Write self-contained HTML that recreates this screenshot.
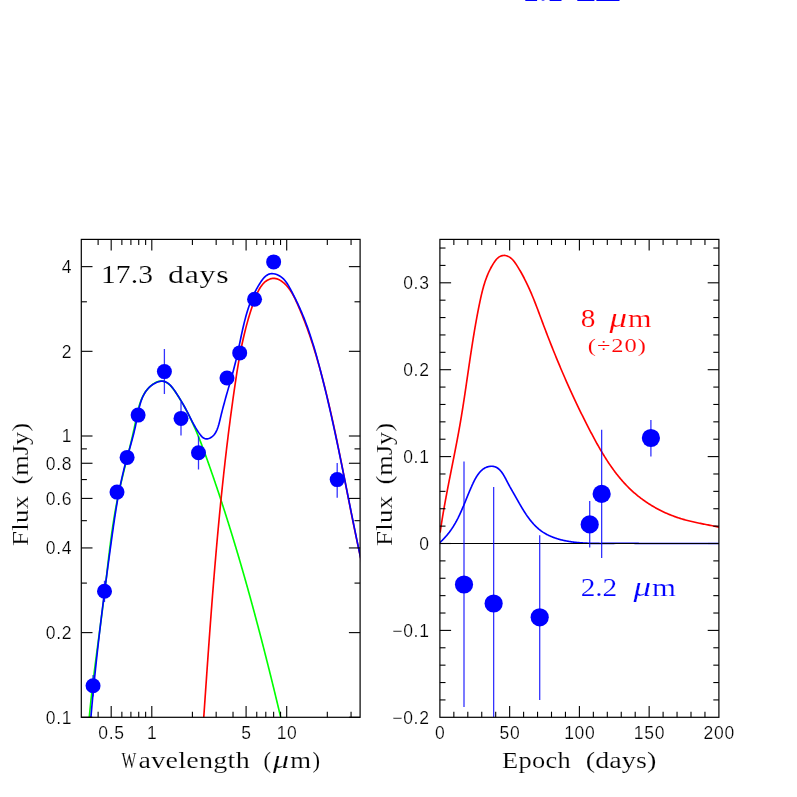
<!DOCTYPE html>
<html><head><meta charset="utf-8"><title>chart</title>
<style>html,body{margin:0;padding:0;background:#fff;}body{width:797px;height:797px;overflow:hidden;font-family:"Liberation Sans",sans-serif;}</style>
</head><body>
<svg width="797" height="797" viewBox="0 0 797 797" style="display:block">
<rect x="0" y="0" width="797" height="797" fill="#fff"/>
<defs>
<clipPath id="cl"><rect x="81.3" y="239.4" width="278.80" height="477.90"/></clipPath>
<clipPath id="cr"><rect x="439.9" y="239.4" width="279.00" height="477.90"/></clipPath>
</defs>
<rect x="525.3" y="0" width="11.8" height="1" fill="#0000ff" opacity="1"/>
<rect x="541.7" y="0" width="2.7" height="1" fill="#0000ff" opacity="0.6"/>
<rect x="549.6" y="0" width="11.9" height="1" fill="#0000ff" opacity="1"/>
<rect x="577.3" y="0" width="17.1" height="1" fill="#0000ff" opacity="1"/>
<rect x="596.4" y="0" width="23.1" height="1" fill="#0000ff" opacity="1"/>
<g clip-path="url(#cl)" fill="none" stroke-linejoin="round">
<path d="M88.25,729.44 L88.35,728.22 L88.44,726.99 L88.54,725.77 L88.64,724.55 L88.75,723.32 L88.85,722.10 L88.96,720.88 L89.06,719.66 L89.17,718.44 L89.28,717.22 L89.39,716.00 L89.51,714.78 L89.62,713.57 L89.74,712.35 L89.86,711.13 L89.97,709.91 L90.10,708.70 L90.22,707.48 L90.34,706.27 L90.46,705.05 L90.59,703.84 L90.72,702.62 L90.84,701.41 L90.97,700.19 L91.10,698.98 L91.23,697.77 L91.37,696.56 L91.50,695.34 L91.63,694.13 L91.77,692.92 L91.91,691.71 L92.04,690.50 L92.18,689.29 L92.32,688.08 L92.46,686.87 L92.61,685.66 L92.75,684.45 L92.89,683.24 L93.04,682.03 L93.18,680.83 L93.33,679.62 L93.47,678.41 L93.62,677.20 L93.77,676.00 L93.92,674.79 L94.07,673.58 L94.22,672.37 L94.37,671.17 L94.52,669.96 L94.67,668.76 L94.83,667.55 L94.98,666.34 L95.13,665.14 L95.29,663.93 L95.44,662.73 L95.60,661.52 L95.75,660.31 L95.91,659.11 L96.07,657.90 L96.23,656.70 L96.38,655.49 L96.54,654.29 L96.70,653.08 L96.86,651.88 L97.02,650.67 L97.18,649.47 L97.34,648.26 L97.50,647.06 L97.66,645.86 L97.82,644.65 L97.98,643.45 L98.14,642.24 L98.30,641.04 L98.46,639.83 L98.62,638.63 L98.78,637.42 L98.94,636.22 L99.10,635.01 L99.26,633.81 L99.42,632.60 L99.58,631.39 L99.74,630.19 L99.90,628.98 L100.06,627.78 L100.22,626.57 L100.38,625.36 L100.54,624.16 L100.70,622.95 L100.86,621.75 L101.02,620.54 L101.18,619.33 L101.34,618.12 L101.50,616.92 L101.66,615.71 L101.81,614.50 L101.97,613.29 L102.13,612.08 L102.28,610.88 L102.44,609.67 L102.59,608.46 L102.75,607.25 L102.90,606.04 L103.06,604.83 L103.21,603.62 L103.36,602.41 L103.52,601.20 L103.67,599.99 L103.82,598.77 L103.97,597.56 L104.12,596.35 L104.27,595.14 L104.41,593.92 L104.56,592.71 L104.71,591.50 L104.85,590.28 L105.00,589.07 L105.14,587.85 L105.29,586.64 L105.43,585.42 L105.57,584.21 L105.71,582.99 L105.85,581.77 L106.00,580.56 L106.14,579.34 L106.28,578.12 L106.42,576.90 L106.56,575.69 L106.70,574.47 L106.84,573.25 L106.98,572.03 L107.12,570.82 L107.26,569.60 L107.40,568.38 L107.54,567.16 L107.68,565.94 L107.82,564.73 L107.96,563.51 L108.10,562.29 L108.24,561.07 L108.38,559.85 L108.53,558.64 L108.67,557.42 L108.82,556.20 L108.96,554.98 L109.11,553.77 L109.26,552.55 L109.40,551.33 L109.55,550.12 L109.70,548.90 L109.85,547.68 L110.00,546.47 L110.16,545.25 L110.31,544.04 L110.47,542.82 L110.63,541.61 L110.78,540.40 L110.94,539.18 L111.10,537.97 L111.27,536.76 L111.43,535.55 L111.60,534.34 L111.77,533.13 L111.94,531.92 L112.11,530.71 L112.28,529.50 L112.46,528.29 L112.63,527.08 L112.81,525.88 L113.00,524.67 L113.18,523.46 L113.36,522.26 L113.55,521.05 L113.74,519.85 L113.94,518.65 L114.13,517.45 L114.33,516.25 L114.53,515.05 L114.73,513.85 L114.94,512.65 L115.14,511.45 L115.36,510.25 L115.57,509.06 L115.79,507.86 L116.01,506.67 L116.23,505.48 L116.45,504.29 L116.68,503.10 L116.91,501.91 L117.15,500.72 L117.39,499.53 L117.63,498.35 L117.87,497.16 L118.12,495.98 L118.37,494.79 L118.62,493.61 L118.88,492.43 L119.14,491.25 L119.40,490.07 L119.66,488.89 L119.93,487.71 L120.20,486.53 L120.47,485.36 L120.74,484.18 L121.01,483.00 L121.29,481.82 L121.57,480.65 L121.85,479.47 L122.13,478.30 L122.41,477.12 L122.70,475.95 L122.98,474.77 L123.27,473.60 L123.56,472.42 L123.85,471.24 L124.14,470.07 L124.43,468.89 L124.72,467.72 L125.02,466.54 L125.31,465.36 L125.60,464.18 L125.90,463.01 L126.19,461.83 L126.49,460.65 L126.78,459.47 L127.08,458.29 L127.37,457.11 L127.67,455.92 L127.96,454.74 L128.25,453.56 L128.55,452.37 L128.84,451.18 L129.13,450.00 L129.43,448.81 L129.72,447.62 L130.01,446.43 L130.29,445.23 L130.58,444.04 L130.87,442.84 L131.15,441.65 L131.44,440.45 L131.72,439.25 L132.00,438.05 L132.28,436.84 L132.56,435.64 L132.83,434.43 L133.11,433.22 L133.38,432.01 L133.65,430.80 L133.92,429.59 L134.18,428.37 L134.44,427.15 L134.70,425.93 L134.96,424.71 L135.22,423.48 L135.47,422.25 L135.72,421.02 L135.97,419.79 L136.21,418.56 L136.47,417.33 L136.72,416.10 L136.98,414.87 L137.24,413.65 L137.51,412.43 L137.79,411.22 L138.08,410.01 L138.38,408.81 L138.70,407.62 L139.02,406.44 L139.37,405.27 L139.73,404.10 L140.10,402.95 L140.50,401.82 L140.92,400.69 L141.36,399.58 L141.82,398.49 L142.30,397.41 L142.82,396.35 L143.36,395.31 L143.93,394.28 L144.52,393.28 L145.15,392.30 L145.82,391.33 L146.51,390.40 L147.25,389.48 L148.02,388.59 L148.82,387.73 L149.67,386.89 L150.56,386.08 L151.49,385.29 L152.46,384.54 L153.47,383.83 L154.51,383.17 L155.59,382.59 L156.68,382.08 L157.80,381.67 L158.92,381.37 L160.06,381.19 L161.20,381.14 L162.33,381.22 L163.44,381.41 L164.52,381.72 L165.56,382.12 L166.56,382.62 L167.52,383.20 L168.44,383.87 L169.34,384.60 L170.20,385.41 L171.04,386.27 L171.85,387.18 L172.63,388.13 L173.40,389.12 L174.15,390.15 L174.88,391.19 L175.60,392.25 L176.31,393.32 L177.01,394.39 L177.70,395.47 L178.38,396.54 L179.05,397.62 L179.72,398.70 L180.37,399.78 L181.02,400.86 L181.66,401.95 L182.30,403.03 L182.92,404.12 L183.54,405.21 L184.15,406.30 L184.75,407.39 L185.35,408.48 L185.94,409.58 L186.52,410.68 L187.10,411.77 L187.67,412.87 L188.23,413.97 L188.79,415.08 L189.34,416.18 L189.88,417.28 L190.42,418.39 L190.95,419.50 L191.48,420.61 L192.00,421.72 L192.52,422.83 L193.03,423.94 L193.53,425.06 L194.03,426.17 L194.53,427.29 L195.02,428.41 L195.50,429.52 L195.98,430.64 L196.46,431.77 L196.93,432.89 L197.40,434.01 L197.87,435.13 L198.33,436.26 L198.78,437.39 L199.24,438.51 L199.68,439.64 L200.13,440.77 L200.57,441.90 L201.01,443.03 L201.45,444.16 L201.88,445.29 L202.31,446.43 L202.74,447.56 L203.17,448.69 L203.59,449.83 L204.01,450.97 L204.43,452.10 L204.85,453.24 L205.26,454.38 L205.68,455.52 L206.09,456.65 L206.50,457.79 L206.91,458.93 L207.32,460.08 L207.72,461.22 L208.13,462.36 L208.53,463.50 L208.94,464.64 L209.34,465.79 L209.74,466.93 L210.14,468.08 L210.55,469.22 L210.94,470.37 L211.34,471.51 L211.74,472.66 L212.14,473.80 L212.54,474.95 L212.93,476.10 L213.33,477.25 L213.72,478.39 L214.11,479.54 L214.51,480.69 L214.90,481.84 L215.29,482.99 L215.68,484.14 L216.07,485.29 L216.46,486.45 L216.85,487.60 L217.23,488.75 L217.62,489.90 L218.01,491.05 L218.39,492.21 L218.78,493.36 L219.16,494.52 L219.54,495.67 L219.92,496.83 L220.30,497.98 L220.68,499.14 L221.06,500.29 L221.44,501.45 L221.82,502.61 L222.20,503.76 L222.57,504.92 L222.95,506.08 L223.33,507.24 L223.70,508.40 L224.07,509.55 L224.45,510.71 L224.82,511.87 L225.19,513.03 L225.56,514.19 L225.93,515.36 L226.30,516.52 L226.67,517.68 L227.04,518.84 L227.40,520.00 L227.77,521.17 L228.14,522.33 L228.50,523.49 L228.86,524.66 L229.23,525.82 L229.59,526.98 L229.95,528.15 L230.31,529.31 L230.68,530.48 L231.04,531.64 L231.39,532.81 L231.75,533.98 L232.11,535.14 L232.47,536.31 L232.83,537.48 L233.18,538.64 L233.54,539.81 L233.89,540.98 L234.25,542.15 L234.60,543.31 L234.95,544.48 L235.30,545.65 L235.65,546.82 L236.01,547.99 L236.36,549.16 L236.71,550.33 L237.05,551.50 L237.40,552.67 L237.75,553.84 L238.10,555.01 L238.44,556.19 L238.79,557.36 L239.13,558.53 L239.48,559.70 L239.82,560.87 L240.16,562.05 L240.51,563.22 L240.85,564.39 L241.19,565.56 L241.53,566.74 L241.87,567.91 L242.21,569.09 L242.55,570.26 L242.89,571.43 L243.22,572.61 L243.56,573.78 L243.90,574.96 L244.23,576.13 L244.57,577.31 L244.90,578.49 L245.23,579.66 L245.57,580.84 L245.90,582.01 L246.23,583.19 L246.56,584.37 L246.90,585.54 L247.23,586.72 L247.56,587.90 L247.88,589.07 L248.21,590.25 L248.54,591.43 L248.87,592.61 L249.20,593.79 L249.52,594.96 L249.85,596.14 L250.17,597.32 L250.50,598.50 L250.82,599.68 L251.15,600.86 L251.47,602.04 L251.79,603.22 L252.11,604.39 L252.43,605.57 L252.76,606.75 L253.08,607.93 L253.40,609.11 L253.71,610.29 L254.03,611.47 L254.35,612.65 L254.67,613.83 L254.99,615.01 L255.30,616.19 L255.62,617.38 L255.93,618.56 L256.25,619.74 L256.56,620.92 L256.88,622.10 L257.19,623.28 L257.51,624.46 L257.82,625.64 L258.13,626.82 L258.44,628.01 L258.75,629.19 L259.06,630.37 L259.37,631.55 L259.68,632.73 L259.99,633.91 L260.30,635.10 L260.61,636.28 L260.92,637.46 L261.22,638.64 L261.53,639.83 L261.84,641.01 L262.14,642.19 L262.45,643.37 L262.75,644.55 L263.06,645.74 L263.36,646.92 L263.66,648.10 L263.97,649.28 L264.27,650.47 L264.57,651.65 L264.87,652.83 L265.17,654.02 L265.47,655.20 L265.78,656.38 L266.07,657.56 L266.37,658.75 L266.67,659.93 L266.97,661.11 L267.27,662.29 L267.57,663.48 L267.87,664.66 L268.16,665.84 L268.46,667.03 L268.75,668.21 L269.05,669.39 L269.35,670.57 L269.64,671.76 L269.93,672.94 L270.23,674.12 L270.52,675.30 L270.82,676.49 L271.11,677.67 L271.40,678.85 L271.69,680.03 L271.98,681.22 L272.28,682.40 L272.57,683.58 L272.86,684.76 L273.15,685.95 L273.44,687.13 L273.73,688.31 L274.01,689.49 L274.30,690.67 L274.59,691.86 L274.88,693.04 L275.17,694.22 L275.45,695.40 L275.74,696.58 L276.03,697.76 L276.31,698.95 L276.60,700.13 L276.88,701.31 L277.17,702.49 L277.45,703.67 L277.74,704.85 L278.02,706.03 L278.30,707.21 L278.59,708.39 L278.87,709.57 L279.15,710.76 L279.44,711.94 L279.72,713.12 L280.00,714.30 L280.28,715.48 L280.56,716.66 L280.84,717.84 L281.12,719.02 L281.40,720.19 L281.68,721.37 L281.96,722.55" stroke="#00ff00" stroke-width="1.65"/>
<path d="M202.94,728.91 L203.03,727.64 L203.12,726.36 L203.21,725.09 L203.30,723.82 L203.39,722.55 L203.47,721.27 L203.56,720.00 L203.65,718.73 L203.74,717.45 L203.83,716.18 L203.92,714.91 L204.00,713.63 L204.09,712.36 L204.18,711.08 L204.27,709.81 L204.36,708.53 L204.45,707.26 L204.53,705.98 L204.62,704.71 L204.71,703.43 L204.80,702.15 L204.89,700.88 L204.98,699.60 L205.06,698.33 L205.15,697.05 L205.24,695.77 L205.33,694.50 L205.42,693.22 L205.51,691.94 L205.60,690.66 L205.68,689.39 L205.77,688.11 L205.86,686.83 L205.95,685.55 L206.04,684.27 L206.13,682.99 L206.22,681.72 L206.31,680.44 L206.40,679.16 L206.49,677.88 L206.57,676.60 L206.66,675.32 L206.75,674.04 L206.84,672.76 L206.93,671.48 L207.02,670.20 L207.11,668.92 L207.20,667.64 L207.29,666.36 L207.38,665.08 L207.47,663.80 L207.56,662.52 L207.66,661.24 L207.75,659.96 L207.84,658.68 L207.93,657.40 L208.02,656.12 L208.11,654.83 L208.20,653.55 L208.29,652.27 L208.39,650.99 L208.48,649.71 L208.57,648.43 L208.66,647.14 L208.75,645.86 L208.85,644.58 L208.94,643.30 L209.03,642.02 L209.12,640.73 L209.22,639.45 L209.31,638.17 L209.40,636.89 L209.50,635.60 L209.59,634.32 L209.68,633.04 L209.78,631.75 L209.87,630.47 L209.97,629.19 L210.06,627.90 L210.16,626.62 L210.25,625.34 L210.35,624.05 L210.44,622.77 L210.54,621.49 L210.64,620.20 L210.73,618.92 L210.83,617.64 L210.92,616.35 L211.02,615.07 L211.12,613.79 L211.22,612.50 L211.31,611.22 L211.41,609.93 L211.51,608.65 L211.61,607.37 L211.71,606.08 L211.80,604.80 L211.90,603.51 L212.00,602.23 L212.10,600.94 L212.20,599.66 L212.30,598.38 L212.40,597.09 L212.50,595.81 L212.60,594.52 L212.70,593.24 L212.80,591.95 L212.91,590.67 L213.01,589.39 L213.11,588.10 L213.21,586.82 L213.32,585.53 L213.42,584.25 L213.52,582.96 L213.63,581.68 L213.73,580.39 L213.83,579.11 L213.94,577.83 L214.04,576.54 L214.15,575.26 L214.25,573.97 L214.36,572.69 L214.47,571.40 L214.57,570.12 L214.68,568.84 L214.79,567.55 L214.89,566.27 L215.00,564.98 L215.11,563.70 L215.22,562.41 L215.33,561.13 L215.44,559.85 L215.55,558.56 L215.66,557.28 L215.77,555.99 L215.88,554.71 L215.99,553.43 L216.10,552.14 L216.21,550.86 L216.32,549.57 L216.44,548.29 L216.55,547.01 L216.66,545.72 L216.77,544.44 L216.89,543.16 L217.00,541.87 L217.12,540.59 L217.23,539.31 L217.35,538.02 L217.46,536.74 L217.58,535.46 L217.70,534.17 L217.82,532.89 L217.93,531.61 L218.05,530.32 L218.17,529.04 L218.29,527.76 L218.41,526.48 L218.53,525.19 L218.65,523.91 L218.77,522.63 L218.89,521.35 L219.01,520.06 L219.13,518.78 L219.26,517.50 L219.38,516.22 L219.50,514.94 L219.63,513.65 L219.75,512.37 L219.87,511.09 L220.00,509.81 L220.12,508.53 L220.25,507.25 L220.38,505.97 L220.50,504.69 L220.63,503.40 L220.76,502.12 L220.89,500.84 L221.02,499.56 L221.15,498.28 L221.28,497.00 L221.41,495.72 L221.54,494.44 L221.67,493.16 L221.80,491.88 L221.93,490.60 L222.07,489.32 L222.20,488.04 L222.33,486.77 L222.47,485.49 L222.60,484.21 L222.74,482.93 L222.88,481.65 L223.01,480.37 L223.15,479.09 L223.29,477.82 L223.43,476.54 L223.56,475.26 L223.70,473.98 L223.84,472.71 L223.98,471.43 L224.13,470.15 L224.27,468.87 L224.41,467.60 L224.55,466.32 L224.70,465.04 L224.84,463.77 L224.98,462.49 L225.13,461.22 L225.27,459.94 L225.42,458.67 L225.57,457.39 L225.71,456.11 L225.86,454.84 L226.01,453.57 L226.16,452.29 L226.31,451.02 L226.46,449.74 L226.61,448.47 L226.76,447.19 L226.92,445.92 L227.07,444.65 L227.22,443.37 L227.38,442.10 L227.53,440.83 L227.69,439.56 L227.84,438.28 L228.00,437.01 L228.15,435.74 L228.31,434.47 L228.47,433.20 L228.63,431.93 L228.79,430.66 L228.95,429.38 L229.11,428.11 L229.27,426.84 L229.44,425.57 L229.60,424.30 L229.76,423.03 L229.93,421.77 L230.09,420.50 L230.26,419.23 L230.42,417.96 L230.59,416.69 L230.76,415.42 L230.93,414.15 L231.10,412.89 L231.27,411.62 L231.44,410.35 L231.61,409.09 L231.78,407.82 L231.95,406.55 L232.13,405.29 L232.30,404.02 L232.48,402.76 L232.65,401.49 L232.83,400.23 L233.00,398.96 L233.18,397.70 L233.36,396.43 L233.54,395.17 L233.72,393.91 L233.90,392.64 L234.08,391.38 L234.26,390.12 L234.45,388.85 L234.63,387.59 L234.81,386.33 L235.00,385.07 L235.18,383.81 L235.37,382.55 L235.56,381.29 L235.75,380.03 L235.94,378.77 L236.13,377.51 L236.32,376.25 L236.52,374.99 L236.72,373.73 L236.91,372.47 L237.11,371.21 L237.32,369.95 L237.52,368.69 L237.73,367.43 L237.94,366.17 L238.15,364.92 L238.36,363.66 L238.58,362.40 L238.79,361.14 L239.02,359.88 L239.24,358.63 L239.47,357.37 L239.70,356.11 L239.93,354.85 L240.17,353.59 L240.41,352.34 L240.65,351.08 L240.89,349.82 L241.14,348.56 L241.40,347.31 L241.66,346.05 L241.92,344.79 L242.18,343.53 L242.45,342.27 L242.73,341.01 L243.01,339.76 L243.29,338.50 L243.57,337.24 L243.87,335.98 L244.16,334.72 L244.46,333.46 L244.77,332.20 L245.08,330.94 L245.40,329.68 L245.72,328.42 L246.04,327.16 L246.38,325.90 L246.71,324.64 L247.06,323.38 L247.40,322.12 L247.76,320.86 L248.12,319.60 L248.48,318.33 L248.86,317.07 L249.24,315.81 L249.62,314.55 L250.01,313.28 L250.41,312.02 L250.81,310.75 L251.22,309.49 L251.64,308.23 L252.06,306.96 L252.49,305.69 L252.93,304.43 L253.38,303.16 L253.83,301.89 L254.29,300.63 L254.76,299.36 L255.23,298.10 L255.72,296.84 L256.22,295.59 L256.74,294.36 L257.28,293.14 L257.83,291.95 L258.41,290.78 L259.02,289.63 L259.65,288.52 L260.31,287.45 L261.00,286.41 L261.72,285.42 L262.48,284.47 L263.28,283.57 L264.11,282.73 L264.99,281.94 L265.91,281.21 L266.88,280.55 L267.89,279.95 L268.96,279.43 L270.06,279.00 L271.18,278.66 L272.33,278.44 L273.48,278.35 L274.63,278.39 L275.78,278.57 L276.92,278.86 L278.05,279.27 L279.16,279.77 L280.26,280.37 L281.33,281.05 L282.37,281.79 L283.39,282.60 L284.37,283.46 L285.32,284.36 L286.23,285.29 L287.10,286.25 L287.93,287.24 L288.73,288.25 L289.50,289.29 L290.24,290.35 L290.96,291.43 L291.64,292.53 L292.31,293.64 L292.95,294.78 L293.57,295.92 L294.17,297.08 L294.76,298.25 L295.33,299.43 L295.89,300.62 L296.44,301.81 L296.98,303.01 L297.51,304.20 L298.04,305.40 L298.56,306.60 L299.08,307.80 L299.59,309.00 L300.10,310.20 L300.60,311.40 L301.10,312.61 L301.59,313.81 L302.08,315.01 L302.57,316.22 L303.05,317.42 L303.52,318.63 L303.99,319.83 L304.46,321.04 L304.92,322.25 L305.38,323.45 L305.83,324.66 L306.28,325.87 L306.73,327.08 L307.17,328.29 L307.61,329.50 L308.04,330.72 L308.47,331.93 L308.90,333.14 L309.32,334.35 L309.74,335.57 L310.15,336.78 L310.56,338.00 L310.97,339.22 L311.37,340.43 L311.77,341.65 L312.17,342.87 L312.57,344.09 L312.96,345.31 L313.34,346.53 L313.73,347.75 L314.11,348.97 L314.49,350.19 L314.87,351.41 L315.24,352.64 L315.61,353.86 L315.98,355.09 L316.34,356.31 L316.70,357.54 L317.06,358.77 L317.42,359.99 L317.77,361.22 L318.12,362.45 L318.47,363.68 L318.82,364.91 L319.17,366.14 L319.51,367.37 L319.85,368.61 L320.19,369.84 L320.53,371.07 L320.86,372.31 L321.19,373.54 L321.52,374.78 L321.85,376.01 L322.18,377.25 L322.51,378.49 L322.83,379.73 L323.15,380.97 L323.47,382.20 L323.79,383.44 L324.11,384.69 L324.42,385.93 L324.74,387.17 L325.05,388.41 L325.36,389.65 L325.67,390.90 L325.98,392.14 L326.28,393.39 L326.59,394.63 L326.89,395.88 L327.19,397.13 L327.49,398.37 L327.79,399.62 L328.08,400.87 L328.38,402.12 L328.67,403.37 L328.97,404.61 L329.26,405.86 L329.55,407.12 L329.84,408.37 L330.12,409.62 L330.41,410.87 L330.69,412.12 L330.98,413.37 L331.26,414.63 L331.54,415.88 L331.82,417.13 L332.10,418.39 L332.38,419.64 L332.65,420.90 L332.93,422.15 L333.20,423.41 L333.48,424.67 L333.75,425.92 L334.02,427.18 L334.29,428.44 L334.56,429.69 L334.83,430.95 L335.10,432.21 L335.37,433.47 L335.63,434.73 L335.90,435.99 L336.16,437.24 L336.42,438.50 L336.69,439.76 L336.95,441.02 L337.21,442.28 L337.47,443.54 L337.73,444.81 L337.99,446.07 L338.25,447.33 L338.50,448.59 L338.76,449.85 L339.02,451.11 L339.27,452.37 L339.53,453.64 L339.78,454.90 L340.04,456.16 L340.29,457.42 L340.54,458.69 L340.80,459.95 L341.05,461.21 L341.30,462.47 L341.55,463.74 L341.80,465.00 L342.05,466.26 L342.30,467.53 L342.55,468.79 L342.80,470.05 L343.05,471.32 L343.30,472.58 L343.55,473.85 L343.80,475.11 L344.05,476.37 L344.30,477.64 L344.54,478.90 L344.79,480.16 L345.04,481.43 L345.29,482.69 L345.53,483.96 L345.78,485.22 L346.03,486.48 L346.28,487.75 L346.52,489.01 L346.77,490.27 L347.02,491.54 L347.27,492.80 L347.51,494.06 L347.76,495.33 L348.01,496.59 L348.26,497.85 L348.51,499.12 L348.75,500.38 L349.00,501.64 L349.25,502.91 L349.50,504.17 L349.75,505.43 L350.00,506.69 L350.25,507.95 L350.50,509.22 L350.75,510.48 L351.00,511.74 L351.25,513.00 L351.50,514.26 L351.76,515.52 L352.01,516.78 L352.26,518.04 L352.52,519.30 L352.77,520.56 L353.02,521.82 L353.28,523.08 L353.54,524.34 L353.79,525.60 L354.05,526.86 L354.31,528.11 L354.56,529.37 L354.82,530.63 L355.08,531.89 L355.34,533.14 L355.60,534.40 L355.87,535.66 L356.13,536.91 L356.39,538.17 L356.66,539.42 L356.92,540.68 L357.19,541.93 L357.45,543.18 L357.72,544.44 L357.99,545.69 L358.26,546.94 L358.53,548.19 L358.80,549.45 L359.07,550.70 L359.35,551.95 L359.62,553.20 L359.90,554.45 L360.17,555.70 L360.45,556.95 L360.73,558.20 L361.01,559.44 L361.29,560.69 L361.57,561.94 L361.86,563.18 L362.14,564.43" stroke="#ff0000" stroke-width="1.65"/>
<path d="M89.89,729.62 L90.02,728.06 L90.14,726.50 L90.27,724.95 L90.40,723.39 L90.53,721.83 L90.66,720.27 L90.79,718.71 L90.92,717.16 L91.05,715.60 L91.19,714.04 L91.32,712.49 L91.46,710.93 L91.60,709.38 L91.73,707.82 L91.87,706.27 L92.01,704.71 L92.16,703.16 L92.30,701.60 L92.44,700.05 L92.58,698.50 L92.73,696.94 L92.88,695.39 L93.02,693.84 L93.17,692.29 L93.32,690.73 L93.47,689.18 L93.62,687.63 L93.77,686.08 L93.92,684.53 L94.08,682.98 L94.23,681.43 L94.39,679.88 L94.54,678.33 L94.70,676.78 L94.86,675.23 L95.02,673.68 L95.18,672.13 L95.34,670.58 L95.50,669.03 L95.66,667.48 L95.83,665.94 L95.99,664.39 L96.16,662.84 L96.32,661.29 L96.49,659.74 L96.66,658.20 L96.82,656.65 L96.99,655.10 L97.16,653.55 L97.33,652.01 L97.51,650.46 L97.68,648.91 L97.85,647.37 L98.03,645.82 L98.20,644.28 L98.38,642.73 L98.55,641.18 L98.73,639.64 L98.91,638.09 L99.09,636.55 L99.27,635.00 L99.45,633.45 L99.63,631.91 L99.81,630.36 L99.99,628.82 L100.17,627.27 L100.36,625.73 L100.54,624.18 L100.73,622.64 L100.91,621.09 L101.10,619.55 L101.29,618.00 L101.48,616.46 L101.67,614.91 L101.85,613.37 L102.04,611.82 L102.24,610.28 L102.43,608.73 L102.62,607.19 L102.81,605.64 L103.01,604.10 L103.20,602.55 L103.39,601.01 L103.59,599.46 L103.78,597.92 L103.98,596.37 L104.18,594.83 L104.38,593.28 L104.57,591.74 L104.77,590.19 L104.97,588.65 L105.17,587.10 L105.37,585.56 L105.57,584.01 L105.78,582.46 L105.98,580.92 L106.18,579.37 L106.38,577.83 L106.59,576.28 L106.79,574.74 L107.00,573.19 L107.20,571.64 L107.41,570.10 L107.62,568.55 L107.82,567.00 L108.03,565.46 L108.24,563.91 L108.45,562.36 L108.66,560.82 L108.87,559.27 L109.08,557.72 L109.29,556.17 L109.50,554.63 L109.71,553.08 L109.92,551.53 L110.13,549.98 L110.35,548.43 L110.56,546.88 L110.77,545.34 L110.99,543.79 L111.20,542.24 L111.42,540.69 L111.63,539.14 L111.85,537.59 L112.06,536.04 L112.28,534.49 L112.50,532.94 L112.72,531.39 L112.94,529.84 L113.16,528.29 L113.38,526.74 L113.60,525.19 L113.83,523.64 L114.05,522.09 L114.28,520.54 L114.51,518.99 L114.74,517.44 L114.98,515.90 L115.21,514.35 L115.45,512.81 L115.70,511.26 L115.94,509.72 L116.19,508.17 L116.44,506.63 L116.69,505.09 L116.95,503.55 L117.21,502.01 L117.48,500.47 L117.75,498.94 L118.02,497.40 L118.30,495.87 L118.58,494.34 L118.86,492.80 L119.15,491.28 L119.45,489.75 L119.74,488.22 L120.05,486.70 L120.36,485.18 L120.67,483.66 L120.99,482.14 L121.32,480.62 L121.65,479.11 L121.98,477.59 L122.33,476.08 L122.67,474.58 L123.03,473.07 L123.39,471.57 L123.76,470.07 L124.13,468.57 L124.51,467.07 L124.90,465.58 L125.29,464.09 L125.69,462.60 L126.10,461.12 L126.51,459.63 L126.92,458.15 L127.34,456.66 L127.76,455.18 L128.18,453.70 L128.60,452.21 L129.03,450.73 L129.45,449.24 L129.88,447.75 L130.30,446.26 L130.72,444.77 L131.14,443.27 L131.55,441.77 L131.96,440.27 L132.37,438.76 L132.77,437.24 L133.17,435.73 L133.56,434.20 L133.94,432.68 L134.31,431.14 L134.68,429.60 L135.04,428.05 L135.39,426.50 L135.72,424.94 L136.05,423.37 L136.36,421.79 L136.67,420.20 L136.97,418.61 L137.27,417.02 L137.57,415.43 L137.88,413.85 L138.20,412.27 L138.52,410.69 L138.87,409.13 L139.23,407.58 L139.61,406.05 L140.02,404.53 L140.46,403.03 L140.93,401.55 L141.43,400.10 L141.98,398.67 L142.57,397.28 L143.20,395.91 L143.88,394.58 L144.62,393.29 L145.41,392.03 L146.26,390.81 L147.17,389.64 L148.15,388.51 L149.20,387.43 L150.32,386.40 L151.52,385.42 L152.79,384.50 L154.13,383.65 L155.52,382.90 L156.95,382.26 L158.40,381.75 L159.86,381.38 L161.31,381.19 L162.75,381.19 L164.15,381.39 L165.51,381.81 L166.81,382.45 L168.07,383.27 L169.29,384.26 L170.46,385.39 L171.58,386.64 L172.67,387.97 L173.72,389.37 L174.73,390.82 L175.71,392.28 L176.65,393.74 L177.56,395.17 L178.45,396.56 L179.30,397.93 L180.13,399.27 L180.94,400.58 L181.73,401.88 L182.49,403.17 L183.24,404.45 L183.97,405.72 L184.69,406.99 L185.39,408.27 L186.09,409.55 L186.78,410.85 L187.46,412.16 L188.14,413.49 L188.82,414.83 L189.50,416.19 L190.18,417.57 L190.88,418.96 L191.59,420.35 L192.31,421.76 L193.06,423.17 L193.83,424.59 L194.62,426.01 L195.44,427.44 L196.30,428.86 L197.19,430.29 L198.12,431.71 L199.10,433.13 L200.12,434.54 L201.19,435.88 L202.32,437.06 L203.52,438.00 L204.79,438.61 L206.12,438.87 L207.47,438.83 L208.81,438.52 L210.11,437.99 L211.33,437.29 L212.44,436.46 L213.45,435.51 L214.36,434.45 L215.18,433.29 L215.93,432.04 L216.60,430.72 L217.20,429.32 L217.75,427.86 L218.26,426.35 L218.72,424.80 L219.15,423.22 L219.55,421.62 L219.95,420.00 L220.33,418.38 L220.72,416.76 L221.11,415.16 L221.50,413.57 L221.90,411.98 L222.30,410.41 L222.70,408.84 L223.11,407.28 L223.52,405.74 L223.94,404.19 L224.36,402.66 L224.77,401.13 L225.19,399.61 L225.62,398.10 L226.04,396.59 L226.46,395.09 L226.89,393.59 L227.31,392.10 L227.74,390.61 L228.16,389.12 L228.59,387.64 L229.01,386.16 L229.43,384.69 L229.85,383.21 L230.27,381.74 L230.69,380.27 L231.10,378.80 L231.52,377.33 L231.92,375.86 L232.33,374.39 L232.73,372.92 L233.13,371.45 L233.53,369.98 L233.92,368.50 L234.30,367.02 L234.68,365.54 L235.06,364.06 L235.43,362.57 L235.79,361.08 L236.15,359.59 L236.50,358.09 L236.85,356.59 L237.19,355.08 L237.52,353.56 L237.85,352.05 L238.18,350.53 L238.50,349.00 L238.82,347.48 L239.14,345.95 L239.46,344.42 L239.78,342.88 L240.10,341.35 L240.42,339.81 L240.74,338.27 L241.06,336.74 L241.38,335.20 L241.71,333.66 L242.05,332.12 L242.38,330.59 L242.73,329.05 L243.08,327.52 L243.43,325.98 L243.80,324.45 L244.17,322.92 L244.55,321.40 L244.94,319.87 L245.34,318.35 L245.75,316.84 L246.17,315.33 L246.61,313.82 L247.05,312.31 L247.51,310.82 L247.99,309.32 L248.48,307.84 L248.98,306.35 L249.50,304.88 L250.04,303.41 L250.59,301.95 L251.16,300.49 L251.75,299.05 L252.36,297.61 L252.99,296.17 L253.64,294.75 L254.31,293.34 L255.01,291.93 L255.72,290.54 L256.46,289.15 L257.22,287.78 L258.01,286.41 L258.82,285.06 L259.66,283.71 L260.53,282.38 L261.42,281.07 L262.35,279.78 L263.31,278.55 L264.33,277.40 L265.40,276.36 L266.54,275.45 L267.75,274.69 L269.04,274.12 L270.42,273.74 L271.89,273.60 L273.47,273.70 L275.10,274.04 L276.72,274.55 L278.28,275.22 L279.73,276.00 L281.07,276.88 L282.31,277.85 L283.46,278.90 L284.52,280.02 L285.51,281.21 L286.44,282.46 L287.31,283.75 L288.14,285.08 L288.93,286.43 L289.69,287.81 L290.44,289.19 L291.18,290.58 L291.91,291.97 L292.64,293.37 L293.36,294.76 L294.06,296.16 L294.76,297.55 L295.46,298.96 L296.14,300.36 L296.82,301.77 L297.49,303.17 L298.15,304.59 L298.80,306.00 L299.44,307.42 L300.08,308.84 L300.70,310.26 L301.32,311.69 L301.93,313.12 L302.53,314.55 L303.13,315.99 L303.71,317.43 L304.28,318.88 L304.85,320.32 L305.41,321.77 L305.96,323.23 L306.51,324.69 L307.04,326.15 L307.57,327.61 L308.10,329.07 L308.61,330.54 L309.12,332.01 L309.62,333.49 L310.12,334.96 L310.61,336.44 L311.09,337.92 L311.57,339.41 L312.04,340.89 L312.50,342.38 L312.96,343.87 L313.42,345.36 L313.87,346.85 L314.32,348.35 L314.76,349.84 L315.19,351.34 L315.62,352.84 L316.05,354.34 L316.48,355.84 L316.90,357.34 L317.31,358.85 L317.72,360.35 L318.13,361.86 L318.54,363.37 L318.94,364.88 L319.35,366.38 L319.74,367.89 L320.14,369.40 L320.53,370.92 L320.92,372.43 L321.31,373.94 L321.70,375.45 L322.08,376.96 L322.47,378.47 L322.85,379.99 L323.23,381.50 L323.60,383.01 L323.98,384.53 L324.35,386.04 L324.72,387.56 L325.09,389.07 L325.46,390.59 L325.83,392.11 L326.19,393.62 L326.55,395.14 L326.91,396.66 L327.27,398.17 L327.63,399.69 L327.98,401.21 L328.34,402.73 L328.69,404.25 L329.04,405.77 L329.39,407.29 L329.74,408.80 L330.09,410.32 L330.43,411.85 L330.77,413.37 L331.12,414.89 L331.46,416.41 L331.80,417.93 L332.13,419.45 L332.47,420.97 L332.81,422.50 L333.14,424.02 L333.47,425.54 L333.80,427.06 L334.14,428.59 L334.46,430.11 L334.79,431.63 L335.12,433.16 L335.45,434.68 L335.77,436.21 L336.10,437.73 L336.42,439.26 L336.74,440.78 L337.06,442.31 L337.38,443.83 L337.70,445.36 L338.02,446.88 L338.34,448.41 L338.66,449.93 L338.97,451.46 L339.29,452.99 L339.60,454.51 L339.92,456.04 L340.23,457.57 L340.54,459.09 L340.85,460.62 L341.17,462.15 L341.48,463.67 L341.79,465.20 L342.10,466.73 L342.41,468.26 L342.72,469.78 L343.02,471.31 L343.33,472.84 L343.64,474.37 L343.95,475.90 L344.26,477.42 L344.56,478.95 L344.87,480.48 L345.18,482.01 L345.48,483.54 L345.79,485.07 L346.09,486.59 L346.40,488.12 L346.70,489.65 L347.01,491.18 L347.32,492.71 L347.62,494.24 L347.93,495.77 L348.23,497.29 L348.54,498.82 L348.84,500.35 L349.15,501.88 L349.45,503.41 L349.76,504.94 L350.07,506.47 L350.37,507.99 L350.68,509.52 L350.98,511.05 L351.29,512.58 L351.60,514.11 L351.91,515.64 L352.21,517.16 L352.52,518.69 L352.83,520.22 L353.14,521.75 L353.45,523.28 L353.76,524.81 L354.07,526.33 L354.38,527.86 L354.69,529.39 L355.01,530.92 L355.32,532.44 L355.63,533.97 L355.95,535.50 L356.26,537.03 L356.58,538.55 L356.89,540.08 L357.21,541.61 L357.53,543.13 L357.85,544.66 L358.17,546.19 L358.49,547.71 L358.81,549.24 L359.13,550.76 L359.46,552.29 L359.78,553.81 L360.11,555.34 L360.43,556.86 L360.76,558.39 L361.09,559.91 L361.42,561.44 L361.75,562.96 L362.08,564.49" stroke="#0000ff" stroke-width="1.65"/>
</g>
<line x1="93.05" y1="675.00" x2="93.05" y2="696.50" stroke="#0000ff" stroke-width="1.3" opacity="0.8"/>
<circle cx="93.05" cy="685.8" r="7.5" fill="#0000ff"/>
<line x1="104.50" y1="580.70" x2="104.50" y2="602.00" stroke="#0000ff" stroke-width="1.3" opacity="0.8"/>
<circle cx="104.5" cy="591.3" r="7.5" fill="#0000ff"/>
<circle cx="117.0" cy="492.1" r="7.5" fill="#0000ff"/>
<circle cx="127.1" cy="457.4" r="7.5" fill="#0000ff"/>
<circle cx="138.1" cy="415.1" r="7.5" fill="#0000ff"/>
<line x1="164.40" y1="349.00" x2="164.40" y2="394.00" stroke="#0000ff" stroke-width="1.3" opacity="0.8"/>
<circle cx="164.4" cy="371.6" r="7.5" fill="#0000ff"/>
<line x1="181.00" y1="402.10" x2="181.00" y2="435.50" stroke="#0000ff" stroke-width="1.3" opacity="0.8"/>
<circle cx="181.0" cy="418.4" r="7.5" fill="#0000ff"/>
<line x1="198.50" y1="436.20" x2="198.50" y2="469.50" stroke="#0000ff" stroke-width="1.3" opacity="0.8"/>
<circle cx="198.5" cy="452.8" r="7.5" fill="#0000ff"/>
<circle cx="227.0" cy="378.0" r="7.5" fill="#0000ff"/>
<circle cx="239.7" cy="352.9" r="7.5" fill="#0000ff"/>
<circle cx="254.55" cy="299.3" r="7.5" fill="#0000ff"/>
<circle cx="273.65" cy="261.9" r="7.5" fill="#0000ff"/>
<line x1="337.20" y1="463.00" x2="337.20" y2="497.80" stroke="#0000ff" stroke-width="1.3" opacity="0.8"/>
<circle cx="337.2" cy="479.6" r="7.5" fill="#0000ff"/>
<rect x="81.3" y="239.4" width="278.80" height="477.90" fill="none" stroke="#000" stroke-width="1.2"/>
<line x1="111.19" y1="717.30" x2="111.19" y2="706.10" stroke="#000" stroke-width="1.1" />
<line x1="111.19" y1="239.40" x2="111.19" y2="250.60" stroke="#000" stroke-width="1.1" />
<line x1="151.80" y1="717.30" x2="151.80" y2="706.10" stroke="#000" stroke-width="1.1" />
<line x1="151.80" y1="239.40" x2="151.80" y2="250.60" stroke="#000" stroke-width="1.1" />
<line x1="246.09" y1="717.30" x2="246.09" y2="706.10" stroke="#000" stroke-width="1.1" />
<line x1="246.09" y1="239.40" x2="246.09" y2="250.60" stroke="#000" stroke-width="1.1" />
<line x1="286.70" y1="717.30" x2="286.70" y2="706.10" stroke="#000" stroke-width="1.1" />
<line x1="286.70" y1="239.40" x2="286.70" y2="250.60" stroke="#000" stroke-width="1.1" />
<line x1="98.12" y1="717.30" x2="98.12" y2="711.70" stroke="#000" stroke-width="1.1" />
<line x1="98.12" y1="239.40" x2="98.12" y2="245.00" stroke="#000" stroke-width="1.1" />
<line x1="121.87" y1="717.30" x2="121.87" y2="711.70" stroke="#000" stroke-width="1.1" />
<line x1="121.87" y1="239.40" x2="121.87" y2="245.00" stroke="#000" stroke-width="1.1" />
<line x1="130.90" y1="717.30" x2="130.90" y2="711.70" stroke="#000" stroke-width="1.1" />
<line x1="130.90" y1="239.40" x2="130.90" y2="245.00" stroke="#000" stroke-width="1.1" />
<line x1="138.73" y1="717.30" x2="138.73" y2="711.70" stroke="#000" stroke-width="1.1" />
<line x1="138.73" y1="239.40" x2="138.73" y2="245.00" stroke="#000" stroke-width="1.1" />
<line x1="145.63" y1="717.30" x2="145.63" y2="711.70" stroke="#000" stroke-width="1.1" />
<line x1="145.63" y1="239.40" x2="145.63" y2="245.00" stroke="#000" stroke-width="1.1" />
<line x1="192.41" y1="717.30" x2="192.41" y2="711.70" stroke="#000" stroke-width="1.1" />
<line x1="192.41" y1="239.40" x2="192.41" y2="245.00" stroke="#000" stroke-width="1.1" />
<line x1="216.16" y1="717.30" x2="216.16" y2="711.70" stroke="#000" stroke-width="1.1" />
<line x1="216.16" y1="239.40" x2="216.16" y2="245.00" stroke="#000" stroke-width="1.1" />
<line x1="233.02" y1="717.30" x2="233.02" y2="711.70" stroke="#000" stroke-width="1.1" />
<line x1="233.02" y1="239.40" x2="233.02" y2="245.00" stroke="#000" stroke-width="1.1" />
<line x1="256.77" y1="717.30" x2="256.77" y2="711.70" stroke="#000" stroke-width="1.1" />
<line x1="256.77" y1="239.40" x2="256.77" y2="245.00" stroke="#000" stroke-width="1.1" />
<line x1="265.80" y1="717.30" x2="265.80" y2="711.70" stroke="#000" stroke-width="1.1" />
<line x1="265.80" y1="239.40" x2="265.80" y2="245.00" stroke="#000" stroke-width="1.1" />
<line x1="273.63" y1="717.30" x2="273.63" y2="711.70" stroke="#000" stroke-width="1.1" />
<line x1="273.63" y1="239.40" x2="273.63" y2="245.00" stroke="#000" stroke-width="1.1" />
<line x1="280.53" y1="717.30" x2="280.53" y2="711.70" stroke="#000" stroke-width="1.1" />
<line x1="280.53" y1="239.40" x2="280.53" y2="245.00" stroke="#000" stroke-width="1.1" />
<line x1="327.31" y1="717.30" x2="327.31" y2="711.70" stroke="#000" stroke-width="1.1" />
<line x1="327.31" y1="239.40" x2="327.31" y2="245.00" stroke="#000" stroke-width="1.1" />
<line x1="351.06" y1="717.30" x2="351.06" y2="711.70" stroke="#000" stroke-width="1.1" />
<line x1="351.06" y1="239.40" x2="351.06" y2="245.00" stroke="#000" stroke-width="1.1" />
<line x1="81.30" y1="717.30" x2="92.50" y2="717.30" stroke="#000" stroke-width="1.1" />
<line x1="360.10" y1="717.30" x2="348.90" y2="717.30" stroke="#000" stroke-width="1.1" />
<line x1="81.30" y1="632.62" x2="92.50" y2="632.62" stroke="#000" stroke-width="1.1" />
<line x1="360.10" y1="632.62" x2="348.90" y2="632.62" stroke="#000" stroke-width="1.1" />
<line x1="81.30" y1="547.94" x2="92.50" y2="547.94" stroke="#000" stroke-width="1.1" />
<line x1="360.10" y1="547.94" x2="348.90" y2="547.94" stroke="#000" stroke-width="1.1" />
<line x1="81.30" y1="498.41" x2="92.50" y2="498.41" stroke="#000" stroke-width="1.1" />
<line x1="360.10" y1="498.41" x2="348.90" y2="498.41" stroke="#000" stroke-width="1.1" />
<line x1="81.30" y1="463.26" x2="92.50" y2="463.26" stroke="#000" stroke-width="1.1" />
<line x1="360.10" y1="463.26" x2="348.90" y2="463.26" stroke="#000" stroke-width="1.1" />
<line x1="81.30" y1="436.00" x2="92.50" y2="436.00" stroke="#000" stroke-width="1.1" />
<line x1="360.10" y1="436.00" x2="348.90" y2="436.00" stroke="#000" stroke-width="1.1" />
<line x1="81.30" y1="351.32" x2="92.50" y2="351.32" stroke="#000" stroke-width="1.1" />
<line x1="360.10" y1="351.32" x2="348.90" y2="351.32" stroke="#000" stroke-width="1.1" />
<line x1="81.30" y1="266.64" x2="92.50" y2="266.64" stroke="#000" stroke-width="1.1" />
<line x1="360.10" y1="266.64" x2="348.90" y2="266.64" stroke="#000" stroke-width="1.1" />
<line x1="81.30" y1="583.09" x2="86.90" y2="583.09" stroke="#000" stroke-width="1.1" />
<line x1="360.10" y1="583.09" x2="354.50" y2="583.09" stroke="#000" stroke-width="1.1" />
<line x1="81.30" y1="520.68" x2="86.90" y2="520.68" stroke="#000" stroke-width="1.1" />
<line x1="360.10" y1="520.68" x2="354.50" y2="520.68" stroke="#000" stroke-width="1.1" />
<line x1="81.30" y1="479.57" x2="86.90" y2="479.57" stroke="#000" stroke-width="1.1" />
<line x1="360.10" y1="479.57" x2="354.50" y2="479.57" stroke="#000" stroke-width="1.1" />
<line x1="81.30" y1="448.87" x2="86.90" y2="448.87" stroke="#000" stroke-width="1.1" />
<line x1="360.10" y1="448.87" x2="354.50" y2="448.87" stroke="#000" stroke-width="1.1" />
<line x1="81.30" y1="301.79" x2="86.90" y2="301.79" stroke="#000" stroke-width="1.1" />
<line x1="360.10" y1="301.79" x2="354.50" y2="301.79" stroke="#000" stroke-width="1.1" />
<g clip-path="url(#cr)" fill="none" stroke-linejoin="round">
<path d="M440.15,532.52 L440.30,531.43 L440.46,530.34 L440.62,529.25 L440.78,528.17 L440.94,527.08 L441.10,525.99 L441.27,524.91 L441.44,523.82 L441.61,522.73 L441.78,521.65 L441.95,520.56 L442.12,519.48 L442.30,518.39 L442.48,517.31 L442.66,516.22 L442.84,515.13 L443.02,514.05 L443.20,512.96 L443.39,511.88 L443.58,510.80 L443.76,509.71 L443.95,508.63 L444.14,507.54 L444.34,506.46 L444.53,505.37 L444.72,504.29 L444.92,503.21 L445.12,502.12 L445.31,501.04 L445.51,499.95 L445.71,498.87 L445.91,497.79 L446.11,496.70 L446.32,495.62 L446.52,494.54 L446.73,493.46 L446.93,492.37 L447.14,491.29 L447.34,490.21 L447.55,489.12 L447.76,488.04 L447.97,486.96 L448.18,485.88 L448.39,484.79 L448.60,483.71 L448.81,482.63 L449.02,481.55 L449.23,480.46 L449.45,479.38 L449.66,478.30 L449.87,477.22 L450.09,476.14 L450.30,475.05 L450.52,473.97 L450.73,472.89 L450.94,471.81 L451.16,470.73 L451.37,469.64 L451.59,468.56 L451.80,467.48 L452.02,466.40 L452.23,465.32 L452.45,464.23 L452.66,463.15 L452.88,462.07 L453.09,460.99 L453.31,459.91 L453.52,458.82 L453.74,457.74 L453.95,456.66 L454.16,455.58 L454.38,454.50 L454.59,453.41 L454.80,452.33 L455.01,451.25 L455.22,450.17 L455.43,449.09 L455.64,448.00 L455.85,446.92 L456.06,445.84 L456.27,444.76 L456.48,443.67 L456.69,442.59 L456.89,441.51 L457.10,440.43 L457.30,439.34 L457.50,438.26 L457.71,437.18 L457.91,436.09 L458.11,435.01 L458.31,433.93 L458.51,432.85 L458.71,431.76 L458.90,430.68 L459.10,429.59 L459.29,428.51 L459.48,427.43 L459.68,426.34 L459.87,425.26 L460.06,424.18 L460.24,423.09 L460.43,422.01 L460.62,420.92 L460.80,419.84 L460.98,418.75 L461.16,417.67 L461.35,416.58 L461.52,415.50 L461.70,414.41 L461.88,413.33 L462.06,412.24 L462.23,411.16 L462.40,410.07 L462.58,408.99 L462.75,407.90 L462.92,406.82 L463.09,405.73 L463.26,404.64 L463.43,403.56 L463.60,402.47 L463.77,401.39 L463.93,400.30 L464.10,399.21 L464.26,398.13 L464.43,397.04 L464.59,395.96 L464.76,394.87 L464.92,393.78 L465.08,392.70 L465.24,391.61 L465.40,390.52 L465.56,389.44 L465.73,388.35 L465.89,387.26 L466.05,386.18 L466.21,385.09 L466.36,384.00 L466.52,382.91 L466.68,381.83 L466.84,380.74 L467.00,379.65 L467.16,378.57 L467.32,377.48 L467.48,376.39 L467.63,375.30 L467.79,374.22 L467.95,373.13 L468.11,372.04 L468.27,370.96 L468.43,369.87 L468.59,368.78 L468.74,367.69 L468.90,366.61 L469.06,365.52 L469.22,364.43 L469.38,363.34 L469.54,362.26 L469.70,361.17 L469.86,360.08 L470.03,358.99 L470.19,357.91 L470.35,356.82 L470.51,355.73 L470.68,354.64 L470.84,353.56 L471.01,352.47 L471.17,351.38 L471.34,350.29 L471.50,349.21 L471.67,348.12 L471.84,347.03 L472.01,345.95 L472.18,344.86 L472.35,343.77 L472.52,342.68 L472.69,341.60 L472.87,340.51 L473.04,339.42 L473.21,338.34 L473.39,337.25 L473.57,336.16 L473.75,335.07 L473.93,333.99 L474.11,332.90 L474.29,331.81 L474.47,330.73 L474.66,329.64 L474.84,328.55 L475.03,327.47 L475.22,326.38 L475.41,325.30 L475.60,324.21 L475.79,323.12 L475.98,322.04 L476.18,320.95 L476.37,319.86 L476.57,318.78 L476.77,317.69 L476.97,316.61 L477.18,315.52 L477.38,314.44 L477.59,313.35 L477.79,312.27 L478.00,311.18 L478.22,310.09 L478.43,309.01 L478.64,307.92 L478.86,306.84 L479.08,305.75 L479.30,304.67 L479.52,303.59 L479.75,302.50 L479.97,301.42 L480.20,300.33 L480.44,299.25 L480.67,298.17 L480.91,297.08 L481.15,296.00 L481.40,294.92 L481.66,293.84 L481.92,292.77 L482.18,291.69 L482.45,290.62 L482.73,289.54 L483.02,288.47 L483.31,287.41 L483.61,286.34 L483.92,285.28 L484.24,284.22 L484.57,283.16 L484.91,282.11 L485.26,281.05 L485.62,280.01 L485.99,278.96 L486.37,277.92 L486.77,276.89 L487.17,275.85 L487.59,274.83 L488.03,273.80 L488.48,272.78 L488.94,271.77 L489.41,270.76 L489.91,269.75 L490.41,268.76 L490.94,267.76 L491.48,266.77 L492.04,265.79 L492.61,264.81 L493.20,263.84 L493.82,262.88 L494.45,261.93 L495.10,261.01 L495.78,260.13 L496.49,259.29 L497.23,258.51 L498.00,257.80 L498.80,257.16 L499.65,256.62 L500.53,256.18 L501.44,255.83 L502.38,255.59 L503.34,255.46 L504.31,255.44 L505.28,255.53 L506.26,255.72 L507.22,256.01 L508.16,256.39 L509.08,256.86 L509.97,257.41 L510.81,258.04 L511.63,258.73 L512.40,259.49 L513.15,260.29 L513.87,261.15 L514.56,262.04 L515.23,262.96 L515.89,263.91 L516.52,264.88 L517.15,265.86 L517.76,266.84 L518.37,267.82 L518.96,268.81 L519.55,269.80 L520.13,270.78 L520.70,271.78 L521.27,272.77 L521.82,273.76 L522.37,274.76 L522.91,275.76 L523.44,276.75 L523.97,277.75 L524.48,278.76 L524.99,279.76 L525.50,280.76 L526.00,281.77 L526.49,282.78 L526.97,283.79 L527.45,284.80 L527.93,285.81 L528.39,286.82 L528.86,287.83 L529.31,288.84 L529.77,289.86 L530.21,290.88 L530.65,291.89 L531.09,292.91 L531.53,293.93 L531.95,294.95 L532.38,295.97 L532.80,296.99 L533.22,298.01 L533.63,299.03 L534.04,300.06 L534.45,301.08 L534.86,302.10 L535.26,303.13 L535.66,304.15 L536.05,305.18 L536.45,306.20 L536.84,307.23 L537.23,308.26 L537.62,309.28 L538.01,310.31 L538.39,311.34 L538.78,312.36 L539.16,313.39 L539.54,314.42 L539.93,315.45 L540.31,316.47 L540.69,317.50 L541.07,318.53 L541.45,319.55 L541.83,320.58 L542.22,321.61 L542.60,322.63 L542.98,323.66 L543.37,324.68 L543.75,325.71 L544.14,326.73 L544.53,327.76 L544.91,328.78 L545.30,329.81 L545.69,330.83 L546.08,331.85 L546.47,332.88 L546.87,333.90 L547.26,334.92 L547.65,335.94 L548.05,336.96 L548.45,337.99 L548.84,339.01 L549.24,340.03 L549.64,341.05 L550.04,342.07 L550.44,343.09 L550.84,344.11 L551.25,345.12 L551.65,346.14 L552.05,347.16 L552.46,348.18 L552.87,349.20 L553.28,350.21 L553.68,351.23 L554.09,352.25 L554.51,353.26 L554.92,354.28 L555.33,355.29 L555.75,356.31 L556.16,357.32 L556.58,358.34 L556.99,359.35 L557.41,360.36 L557.83,361.38 L558.25,362.39 L558.68,363.40 L559.10,364.41 L559.52,365.42 L559.95,366.44 L560.38,367.45 L560.80,368.46 L561.23,369.47 L561.66,370.48 L562.09,371.49 L562.52,372.49 L562.96,373.50 L563.39,374.51 L563.83,375.52 L564.27,376.53 L564.70,377.53 L565.14,378.54 L565.58,379.55 L566.03,380.55 L566.47,381.56 L566.91,382.56 L567.36,383.57 L567.81,384.57 L568.25,385.57 L568.70,386.58 L569.15,387.58 L569.61,388.58 L570.06,389.58 L570.51,390.59 L570.97,391.59 L571.43,392.59 L571.89,393.59 L572.35,394.59 L572.81,395.59 L573.27,396.59 L573.73,397.59 L574.20,398.58 L574.66,399.58 L575.13,400.58 L575.60,401.58 L576.07,402.57 L576.54,403.57 L577.02,404.57 L577.49,405.56 L577.97,406.56 L578.45,407.55 L578.92,408.55 L579.41,409.54 L579.89,410.53 L580.37,411.52 L580.85,412.52 L581.34,413.51 L581.83,414.50 L582.32,415.49 L582.81,416.48 L583.30,417.47 L583.79,418.46 L584.29,419.45 L584.79,420.44 L585.28,421.43 L585.78,422.42 L586.28,423.40 L586.79,424.39 L587.29,425.38 L587.80,426.36 L588.30,427.35 L588.81,428.33 L589.32,429.32 L589.83,430.30 L590.35,431.29 L590.86,432.27 L591.38,433.25 L591.90,434.24 L592.42,435.22 L592.94,436.20 L593.46,437.18 L593.99,438.16 L594.52,439.13 L595.05,440.11 L595.58,441.08 L596.11,442.06 L596.65,443.03 L597.19,444.00 L597.74,444.97 L598.28,445.94 L598.83,446.90 L599.38,447.87 L599.93,448.83 L600.49,449.79 L601.05,450.74 L601.62,451.70 L602.18,452.65 L602.75,453.60 L603.33,454.54 L603.90,455.49 L604.49,456.43 L605.07,457.37 L605.66,458.30 L606.25,459.23 L606.85,460.16 L607.45,461.09 L608.06,462.01 L608.66,462.93 L609.28,463.84 L609.90,464.75 L610.52,465.66 L611.15,466.56 L611.78,467.46 L612.42,468.35 L613.06,469.24 L613.70,470.13 L614.36,471.01 L615.01,471.89 L615.67,472.76 L616.34,473.63 L617.01,474.49 L617.69,475.35 L618.38,476.20 L619.07,477.05 L619.76,477.89 L620.46,478.73 L621.17,479.56 L621.88,480.38 L622.60,481.20 L623.33,482.02 L624.06,482.83 L624.80,483.63 L625.54,484.43 L626.29,485.22 L627.05,486.00 L627.81,486.78 L628.58,487.55 L629.36,488.32 L630.14,489.08 L630.94,489.83 L631.73,490.57 L632.54,491.31 L633.35,492.04 L634.17,492.77 L635.00,493.48 L635.83,494.19 L636.67,494.89 L637.52,495.59 L638.38,496.28 L639.24,496.96 L640.11,497.63 L640.98,498.30 L641.86,498.96 L642.75,499.61 L643.64,500.25 L644.54,500.89 L645.44,501.52 L646.35,502.14 L647.27,502.75 L648.19,503.35 L649.11,503.95 L650.05,504.54 L650.99,505.12 L651.93,505.70 L652.88,506.26 L653.83,506.82 L654.79,507.37 L655.75,507.91 L656.72,508.45 L657.69,508.97 L658.67,509.49 L659.65,510.00 L660.64,510.50 L661.63,510.99 L662.62,511.48 L663.62,511.95 L664.62,512.42 L665.63,512.88 L666.64,513.33 L667.65,513.77 L668.67,514.21 L669.69,514.63 L670.72,515.05 L671.74,515.45 L672.78,515.85 L673.81,516.24 L674.85,516.62 L675.89,516.99 L676.93,517.35 L677.98,517.71 L679.03,518.05 L680.08,518.39 L681.13,518.71 L682.19,519.03 L683.25,519.34 L684.31,519.64 L685.37,519.93 L686.44,520.22 L687.50,520.50 L688.57,520.77 L689.64,521.03 L690.71,521.29 L691.79,521.55 L692.86,521.80 L693.94,522.04 L695.02,522.28 L696.09,522.51 L697.17,522.74 L698.25,522.97 L699.33,523.19 L700.41,523.42 L701.49,523.63 L702.57,523.85 L703.66,524.07 L704.74,524.28 L705.82,524.49 L706.90,524.70 L707.98,524.91 L709.06,525.13 L710.14,525.34 L711.22,525.55 L712.30,525.76 L713.38,525.98 L714.46,526.20 L715.54,526.41 L716.61,526.64 L717.69,526.86 L718.76,527.09 L719.83,527.32 L720.90,527.56 L721.97,527.80" stroke="#ff0000" stroke-width="1.65"/>
<path d="M438.76,543.53 L439.15,543.19 L439.53,542.84 L439.92,542.49 L440.30,542.15 L440.67,541.80 L441.04,541.45 L441.41,541.09 L441.77,540.74 L442.13,540.39 L442.49,540.04 L442.84,539.68 L443.19,539.33 L443.54,538.97 L443.88,538.61 L444.22,538.25 L444.55,537.89 L444.88,537.53 L445.21,537.17 L445.53,536.81 L445.85,536.45 L446.17,536.08 L446.48,535.72 L446.79,535.35 L447.10,534.99 L447.40,534.62 L447.70,534.25 L448.00,533.88 L448.30,533.51 L448.59,533.14 L448.88,532.77 L449.16,532.40 L449.45,532.03 L449.73,531.65 L450.00,531.28 L450.28,530.90 L450.55,530.52 L450.82,530.15 L451.08,529.77 L451.35,529.39 L451.61,529.01 L451.87,528.63 L452.12,528.24 L452.37,527.86 L452.63,527.48 L452.87,527.09 L453.12,526.71 L453.36,526.32 L453.61,525.93 L453.84,525.55 L454.08,525.16 L454.32,524.77 L454.55,524.38 L454.78,523.99 L455.01,523.59 L455.23,523.20 L455.46,522.81 L455.68,522.41 L455.90,522.02 L456.12,521.62 L456.34,521.23 L456.55,520.83 L456.77,520.43 L456.98,520.03 L457.19,519.63 L457.40,519.23 L457.61,518.83 L457.81,518.42 L458.01,518.02 L458.22,517.62 L458.42,517.21 L458.62,516.81 L458.82,516.40 L459.01,515.99 L459.21,515.58 L459.40,515.18 L459.60,514.77 L459.79,514.36 L459.98,513.94 L460.17,513.53 L460.36,513.12 L460.55,512.71 L460.74,512.29 L460.92,511.88 L461.11,511.46 L461.29,511.05 L461.48,510.63 L461.66,510.21 L461.84,509.79 L462.02,509.37 L462.20,508.95 L462.38,508.53 L462.56,508.11 L462.74,507.69 L462.92,507.26 L463.10,506.84 L463.28,506.41 L463.46,505.99 L463.63,505.56 L463.81,505.14 L463.99,504.71 L464.16,504.28 L464.34,503.85 L464.52,503.42 L464.69,502.99 L464.87,502.56 L465.05,502.13 L465.22,501.69 L465.40,501.26 L465.58,500.83 L465.75,500.39 L465.93,499.96 L466.11,499.52 L466.28,499.08 L466.46,498.65 L466.64,498.21 L466.82,497.77 L467.00,497.33 L467.18,496.89 L467.36,496.45 L467.54,496.01 L467.72,495.56 L467.90,495.12 L468.08,494.68 L468.27,494.23 L468.45,493.79 L468.63,493.34 L468.82,492.90 L469.01,492.45 L469.19,492.00 L469.38,491.55 L469.57,491.10 L469.76,490.65 L469.95,490.20 L470.14,489.75 L470.34,489.30 L470.53,488.85 L470.73,488.39 L470.93,487.94 L471.12,487.49 L471.32,487.03 L471.53,486.58 L471.73,486.12 L471.93,485.66 L472.14,485.21 L472.35,484.75 L472.55,484.29 L472.77,483.84 L472.98,483.38 L473.19,482.93 L473.41,482.47 L473.63,482.02 L473.85,481.57 L474.08,481.12 L474.30,480.68 L474.53,480.23 L474.76,479.79 L475.00,479.35 L475.23,478.92 L475.47,478.49 L475.72,478.06 L475.96,477.63 L476.21,477.21 L476.47,476.80 L476.72,476.39 L476.98,475.98 L477.24,475.58 L477.51,475.18 L477.78,474.79 L478.05,474.40 L478.33,474.02 L478.61,473.65 L478.90,473.28 L479.19,472.92 L479.48,472.57 L479.78,472.22 L480.08,471.88 L480.39,471.55 L480.70,471.22 L481.02,470.91 L481.34,470.60 L481.67,470.30 L482.00,470.01 L482.33,469.73 L482.68,469.45 L483.02,469.19 L483.37,468.94 L483.73,468.69 L484.09,468.46 L484.46,468.24 L484.83,468.02 L485.21,467.82 L485.60,467.63 L485.99,467.45 L486.39,467.29 L486.79,467.13 L487.20,466.99 L487.61,466.85 L488.03,466.73 L488.46,466.63 L488.90,466.53 L489.33,466.45 L489.78,466.39 L490.22,466.34 L490.67,466.30 L491.12,466.28 L491.57,466.27 L492.02,466.28 L492.46,466.30 L492.91,466.34 L493.35,466.40 L493.78,466.48 L494.21,466.57 L494.64,466.68 L495.06,466.81 L495.47,466.96 L495.87,467.12 L496.26,467.31 L496.65,467.51 L497.03,467.73 L497.40,467.96 L497.77,468.21 L498.12,468.47 L498.48,468.75 L498.82,469.04 L499.16,469.34 L499.50,469.66 L499.82,469.99 L500.15,470.33 L500.46,470.68 L500.77,471.04 L501.08,471.41 L501.38,471.79 L501.68,472.18 L501.97,472.58 L502.25,472.99 L502.54,473.40 L502.81,473.82 L503.09,474.25 L503.36,474.68 L503.63,475.11 L503.89,475.56 L504.15,476.00 L504.40,476.45 L504.66,476.90 L504.91,477.35 L505.16,477.81 L505.40,478.27 L505.65,478.72 L505.89,479.18 L506.13,479.64 L506.36,480.09 L506.60,480.55 L506.83,481.00 L507.06,481.45 L507.30,481.90 L507.53,482.34 L507.76,482.78 L507.99,483.21 L508.21,483.64 L508.44,484.07 L508.67,484.49 L508.89,484.91 L509.12,485.33 L509.35,485.74 L509.57,486.15 L509.79,486.56 L510.02,486.96 L510.24,487.36 L510.47,487.76 L510.69,488.16 L510.91,488.56 L511.13,488.95 L511.35,489.34 L511.58,489.73 L511.80,490.12 L512.02,490.51 L512.24,490.90 L512.46,491.29 L512.68,491.67 L512.91,492.06 L513.13,492.45 L513.35,492.83 L513.57,493.22 L513.79,493.61 L514.01,493.99 L514.24,494.38 L514.46,494.77 L514.68,495.16 L514.91,495.55 L515.13,495.95 L515.35,496.34 L515.58,496.74 L515.80,497.14 L516.03,497.54 L516.25,497.94 L516.48,498.34 L516.71,498.74 L516.93,499.14 L517.16,499.55 L517.39,499.95 L517.62,500.36 L517.85,500.76 L518.08,501.17 L518.31,501.58 L518.54,501.98 L518.77,502.39 L519.01,502.80 L519.24,503.21 L519.48,503.62 L519.71,504.03 L519.95,504.44 L520.19,504.85 L520.43,505.26 L520.67,505.68 L520.91,506.09 L521.15,506.50 L521.39,506.91 L521.63,507.32 L521.88,507.73 L522.12,508.14 L522.37,508.55 L522.62,508.96 L522.87,509.36 L523.12,509.77 L523.37,510.18 L523.63,510.59 L523.88,510.99 L524.14,511.40 L524.39,511.80 L524.65,512.21 L524.91,512.61 L525.17,513.01 L525.44,513.41 L525.70,513.81 L525.97,514.21 L526.23,514.61 L526.50,515.00 L526.77,515.40 L527.05,515.79 L527.32,516.18 L527.60,516.57 L527.87,516.96 L528.15,517.35 L528.43,517.73 L528.71,518.11 L529.00,518.50 L529.28,518.88 L529.57,519.25 L529.86,519.63 L530.15,520.00 L530.45,520.37 L530.74,520.74 L531.04,521.11 L531.34,521.48 L531.64,521.84 L531.94,522.20 L532.25,522.56 L532.56,522.91 L532.87,523.26 L533.18,523.61 L533.49,523.96 L533.81,524.30 L534.13,524.65 L534.45,524.98 L534.77,525.32 L535.09,525.65 L535.42,525.98 L535.75,526.31 L536.08,526.63 L536.42,526.95 L536.76,527.27 L537.10,527.58 L537.44,527.89 L537.78,528.20 L538.13,528.51 L538.48,528.80 L538.83,529.10 L539.19,529.39 L539.54,529.68 L539.90,529.97 L540.27,530.25 L540.63,530.53 L541.00,530.80 L541.37,531.07 L541.74,531.33 L542.12,531.59 L542.50,531.85 L542.88,532.11 L543.26,532.36 L543.65,532.60 L544.04,532.85 L544.43,533.08 L544.82,533.32 L545.22,533.55 L545.62,533.78 L546.02,534.00 L546.42,534.22 L546.82,534.44 L547.23,534.66 L547.64,534.87 L548.05,535.07 L548.46,535.28 L548.88,535.48 L549.30,535.67 L549.72,535.87 L550.14,536.06 L550.56,536.24 L550.99,536.43 L551.41,536.61 L551.84,536.79 L552.27,536.96 L552.70,537.13 L553.14,537.30 L553.57,537.46 L554.01,537.63 L554.45,537.79 L554.89,537.94 L555.33,538.09 L555.78,538.24 L556.22,538.39 L556.67,538.54 L557.12,538.68 L557.57,538.82 L558.02,538.95 L558.47,539.09 L558.92,539.22 L559.38,539.34 L559.84,539.47 L560.29,539.59 L560.75,539.71 L561.21,539.83 L561.67,539.94 L562.13,540.06 L562.60,540.17 L563.06,540.27 L563.52,540.38 L563.99,540.48 L564.46,540.58 L564.92,540.68 L565.39,540.78 L565.86,540.87 L566.33,540.96 L566.80,541.05 L567.27,541.14 L567.74,541.22 L568.22,541.30 L568.69,541.38 L569.16,541.46 L569.64,541.54 L570.11,541.61 L570.59,541.68 L571.06,541.76 L571.54,541.82 L572.02,541.89 L572.49,541.95 L572.97,542.02 L573.45,542.08 L573.93,542.14 L574.40,542.20 L574.88,542.25 L575.36,542.30 L575.84,542.36 L576.32,542.41 L576.79,542.46 L577.27,542.50 L577.75,542.55 L578.23,542.59 L578.71,542.64 L579.19,542.68 L579.66,542.72 L580.14,542.76 L580.62,542.80 L581.10,542.83 L581.57,542.87 L582.05,542.90 L582.53,542.93 L583.00,542.96 L583.48,542.99 L583.95,543.02 L584.43,543.05 L584.90,543.07 L585.38,543.10 L585.85,543.12 L586.32,543.15 L586.79,543.17 L587.26,543.19 L587.74,543.21 L588.21,543.23 L588.67,543.25 L589.14,543.26 L589.61,543.28 L590.08,543.30 L590.55,543.31 L591.01,543.32 L591.48,543.34 L591.95,543.35 L592.41,543.36 L592.88,543.37 L593.34,543.38 L593.81,543.39 L594.27,543.40 L594.73,543.40 L595.20,543.41 L595.66,543.42 L596.12,543.42 L596.59,543.43 L597.05,543.43 L597.51,543.44 L597.97,543.44 L598.43,543.44 L598.89,543.44 L599.35,543.44 L599.81,543.45 L600.27,543.45 L600.73,543.45 L601.19,543.45 L601.65,543.44 L602.11,543.44 L602.57,543.44 L603.03,543.44 L603.49,543.44 L603.95,543.43 L604.41,543.43 L604.87,543.43 L605.32,543.42 L605.78,543.42 L606.24,543.41 L606.70,543.41 L607.16,543.40 L607.62,543.40 L608.08,543.39 L608.53,543.39 L608.99,543.38 L609.45,543.37 L609.91,543.37 L610.37,543.36 L610.83,543.36 L611.29,543.35 L611.75,543.34 L612.21,543.34 L612.66,543.33 L613.12,543.32 L613.58,543.32 L614.04,543.31 L614.50,543.30 L614.96,543.30 L615.42,543.29 L615.89,543.28 L616.35,543.28 L616.81,543.27 L617.27,543.27 L617.73,543.26 L618.19,543.26 L618.66,543.25 L619.12,543.24 L619.58,543.24 L620.05,543.24 L620.51,543.23 L620.97,543.23 L621.44,543.22 L621.90,543.22 L622.37,543.22 L622.83,543.21 L623.30,543.21 L623.77,543.21 L624.23,543.21 L624.70,543.21 L625.17,543.21 L625.64,543.21 L626.11,543.21 L626.58,543.21 L627.05,543.21 L627.52,543.21 L627.99,543.21 L628.46,543.22 L628.94,543.22 L629.41,543.22 L629.88,543.23 L630.36,543.23 L630.83,543.24 L631.31,543.25 L631.79,543.25 L632.26,543.26 L632.74,543.27 L633.22,543.28 L633.70,543.29 L634.18,543.30 L634.66,543.31 L635.14,543.33 L635.63,543.34 L636.11,543.35 L636.59,543.37 L637.08,543.39 L637.56,543.40 L638.05,543.42 L638.54,543.44 L639.03,543.46 L639.52,543.48 L640.01,543.50 L722.00,543.50" stroke="#0000ff" stroke-width="1.65"/>
</g>
<line x1="439.90" y1="543.50" x2="718.90" y2="543.50" stroke="#000" stroke-width="1.1" />
<g clip-path="url(#cr)">
<line x1="464.00" y1="461.60" x2="464.00" y2="706.90" stroke="#0000ff" stroke-width="1.3" opacity="0.8"/>
<circle cx="464.0" cy="584.5" r="9.1" fill="#0000ff"/>
<line x1="493.65" y1="487.00" x2="493.65" y2="730.00" stroke="#0000ff" stroke-width="1.3" opacity="0.8"/>
<circle cx="493.65" cy="603.5" r="9.1" fill="#0000ff"/>
<line x1="539.70" y1="535.30" x2="539.70" y2="699.90" stroke="#0000ff" stroke-width="1.3" opacity="0.8"/>
<circle cx="539.7" cy="617.3" r="9.1" fill="#0000ff"/>
<line x1="589.70" y1="501.00" x2="589.70" y2="547.60" stroke="#0000ff" stroke-width="1.3" opacity="0.8"/>
<circle cx="589.7" cy="524.4" r="9.1" fill="#0000ff"/>
<line x1="601.65" y1="429.70" x2="601.65" y2="558.10" stroke="#0000ff" stroke-width="1.3" opacity="0.8"/>
<circle cx="601.65" cy="493.9" r="9.1" fill="#0000ff"/>
<line x1="650.90" y1="420.10" x2="650.90" y2="456.60" stroke="#0000ff" stroke-width="1.3" opacity="0.8"/>
<circle cx="650.9" cy="438.0" r="9.1" fill="#0000ff"/>
</g>
<rect x="439.9" y="239.4" width="279.00" height="477.90" fill="none" stroke="#000" stroke-width="1.2"/>
<line x1="453.85" y1="717.30" x2="453.85" y2="711.70" stroke="#000" stroke-width="1.1" />
<line x1="453.85" y1="239.40" x2="453.85" y2="245.00" stroke="#000" stroke-width="1.1" />
<line x1="467.80" y1="717.30" x2="467.80" y2="711.70" stroke="#000" stroke-width="1.1" />
<line x1="467.80" y1="239.40" x2="467.80" y2="245.00" stroke="#000" stroke-width="1.1" />
<line x1="481.75" y1="717.30" x2="481.75" y2="711.70" stroke="#000" stroke-width="1.1" />
<line x1="481.75" y1="239.40" x2="481.75" y2="245.00" stroke="#000" stroke-width="1.1" />
<line x1="495.70" y1="717.30" x2="495.70" y2="711.70" stroke="#000" stroke-width="1.1" />
<line x1="495.70" y1="239.40" x2="495.70" y2="245.00" stroke="#000" stroke-width="1.1" />
<line x1="509.65" y1="717.30" x2="509.65" y2="706.10" stroke="#000" stroke-width="1.1" />
<line x1="509.65" y1="239.40" x2="509.65" y2="250.60" stroke="#000" stroke-width="1.1" />
<line x1="523.60" y1="717.30" x2="523.60" y2="711.70" stroke="#000" stroke-width="1.1" />
<line x1="523.60" y1="239.40" x2="523.60" y2="245.00" stroke="#000" stroke-width="1.1" />
<line x1="537.55" y1="717.30" x2="537.55" y2="711.70" stroke="#000" stroke-width="1.1" />
<line x1="537.55" y1="239.40" x2="537.55" y2="245.00" stroke="#000" stroke-width="1.1" />
<line x1="551.50" y1="717.30" x2="551.50" y2="711.70" stroke="#000" stroke-width="1.1" />
<line x1="551.50" y1="239.40" x2="551.50" y2="245.00" stroke="#000" stroke-width="1.1" />
<line x1="565.45" y1="717.30" x2="565.45" y2="711.70" stroke="#000" stroke-width="1.1" />
<line x1="565.45" y1="239.40" x2="565.45" y2="245.00" stroke="#000" stroke-width="1.1" />
<line x1="579.40" y1="717.30" x2="579.40" y2="706.10" stroke="#000" stroke-width="1.1" />
<line x1="579.40" y1="239.40" x2="579.40" y2="250.60" stroke="#000" stroke-width="1.1" />
<line x1="593.35" y1="717.30" x2="593.35" y2="711.70" stroke="#000" stroke-width="1.1" />
<line x1="593.35" y1="239.40" x2="593.35" y2="245.00" stroke="#000" stroke-width="1.1" />
<line x1="607.30" y1="717.30" x2="607.30" y2="711.70" stroke="#000" stroke-width="1.1" />
<line x1="607.30" y1="239.40" x2="607.30" y2="245.00" stroke="#000" stroke-width="1.1" />
<line x1="621.25" y1="717.30" x2="621.25" y2="711.70" stroke="#000" stroke-width="1.1" />
<line x1="621.25" y1="239.40" x2="621.25" y2="245.00" stroke="#000" stroke-width="1.1" />
<line x1="635.20" y1="717.30" x2="635.20" y2="711.70" stroke="#000" stroke-width="1.1" />
<line x1="635.20" y1="239.40" x2="635.20" y2="245.00" stroke="#000" stroke-width="1.1" />
<line x1="649.15" y1="717.30" x2="649.15" y2="706.10" stroke="#000" stroke-width="1.1" />
<line x1="649.15" y1="239.40" x2="649.15" y2="250.60" stroke="#000" stroke-width="1.1" />
<line x1="663.10" y1="717.30" x2="663.10" y2="711.70" stroke="#000" stroke-width="1.1" />
<line x1="663.10" y1="239.40" x2="663.10" y2="245.00" stroke="#000" stroke-width="1.1" />
<line x1="677.05" y1="717.30" x2="677.05" y2="711.70" stroke="#000" stroke-width="1.1" />
<line x1="677.05" y1="239.40" x2="677.05" y2="245.00" stroke="#000" stroke-width="1.1" />
<line x1="691.00" y1="717.30" x2="691.00" y2="711.70" stroke="#000" stroke-width="1.1" />
<line x1="691.00" y1="239.40" x2="691.00" y2="245.00" stroke="#000" stroke-width="1.1" />
<line x1="704.95" y1="717.30" x2="704.95" y2="711.70" stroke="#000" stroke-width="1.1" />
<line x1="704.95" y1="239.40" x2="704.95" y2="245.00" stroke="#000" stroke-width="1.1" />
<line x1="439.90" y1="699.92" x2="445.50" y2="699.92" stroke="#000" stroke-width="1.1" />
<line x1="718.90" y1="699.92" x2="713.30" y2="699.92" stroke="#000" stroke-width="1.1" />
<line x1="439.90" y1="682.54" x2="445.50" y2="682.54" stroke="#000" stroke-width="1.1" />
<line x1="718.90" y1="682.54" x2="713.30" y2="682.54" stroke="#000" stroke-width="1.1" />
<line x1="439.90" y1="665.16" x2="445.50" y2="665.16" stroke="#000" stroke-width="1.1" />
<line x1="718.90" y1="665.16" x2="713.30" y2="665.16" stroke="#000" stroke-width="1.1" />
<line x1="439.90" y1="647.78" x2="445.50" y2="647.78" stroke="#000" stroke-width="1.1" />
<line x1="718.90" y1="647.78" x2="713.30" y2="647.78" stroke="#000" stroke-width="1.1" />
<line x1="439.90" y1="630.40" x2="451.10" y2="630.40" stroke="#000" stroke-width="1.1" />
<line x1="718.90" y1="630.40" x2="707.70" y2="630.40" stroke="#000" stroke-width="1.1" />
<line x1="439.90" y1="613.02" x2="445.50" y2="613.02" stroke="#000" stroke-width="1.1" />
<line x1="718.90" y1="613.02" x2="713.30" y2="613.02" stroke="#000" stroke-width="1.1" />
<line x1="439.90" y1="595.64" x2="445.50" y2="595.64" stroke="#000" stroke-width="1.1" />
<line x1="718.90" y1="595.64" x2="713.30" y2="595.64" stroke="#000" stroke-width="1.1" />
<line x1="439.90" y1="578.26" x2="445.50" y2="578.26" stroke="#000" stroke-width="1.1" />
<line x1="718.90" y1="578.26" x2="713.30" y2="578.26" stroke="#000" stroke-width="1.1" />
<line x1="439.90" y1="560.88" x2="445.50" y2="560.88" stroke="#000" stroke-width="1.1" />
<line x1="718.90" y1="560.88" x2="713.30" y2="560.88" stroke="#000" stroke-width="1.1" />
<line x1="439.90" y1="543.50" x2="451.10" y2="543.50" stroke="#000" stroke-width="1.1" />
<line x1="718.90" y1="543.50" x2="707.70" y2="543.50" stroke="#000" stroke-width="1.1" />
<line x1="439.90" y1="526.12" x2="445.50" y2="526.12" stroke="#000" stroke-width="1.1" />
<line x1="718.90" y1="526.12" x2="713.30" y2="526.12" stroke="#000" stroke-width="1.1" />
<line x1="439.90" y1="508.74" x2="445.50" y2="508.74" stroke="#000" stroke-width="1.1" />
<line x1="718.90" y1="508.74" x2="713.30" y2="508.74" stroke="#000" stroke-width="1.1" />
<line x1="439.90" y1="491.36" x2="445.50" y2="491.36" stroke="#000" stroke-width="1.1" />
<line x1="718.90" y1="491.36" x2="713.30" y2="491.36" stroke="#000" stroke-width="1.1" />
<line x1="439.90" y1="473.98" x2="445.50" y2="473.98" stroke="#000" stroke-width="1.1" />
<line x1="718.90" y1="473.98" x2="713.30" y2="473.98" stroke="#000" stroke-width="1.1" />
<line x1="439.90" y1="456.60" x2="451.10" y2="456.60" stroke="#000" stroke-width="1.1" />
<line x1="718.90" y1="456.60" x2="707.70" y2="456.60" stroke="#000" stroke-width="1.1" />
<line x1="439.90" y1="439.22" x2="445.50" y2="439.22" stroke="#000" stroke-width="1.1" />
<line x1="718.90" y1="439.22" x2="713.30" y2="439.22" stroke="#000" stroke-width="1.1" />
<line x1="439.90" y1="421.84" x2="445.50" y2="421.84" stroke="#000" stroke-width="1.1" />
<line x1="718.90" y1="421.84" x2="713.30" y2="421.84" stroke="#000" stroke-width="1.1" />
<line x1="439.90" y1="404.46" x2="445.50" y2="404.46" stroke="#000" stroke-width="1.1" />
<line x1="718.90" y1="404.46" x2="713.30" y2="404.46" stroke="#000" stroke-width="1.1" />
<line x1="439.90" y1="387.08" x2="445.50" y2="387.08" stroke="#000" stroke-width="1.1" />
<line x1="718.90" y1="387.08" x2="713.30" y2="387.08" stroke="#000" stroke-width="1.1" />
<line x1="439.90" y1="369.70" x2="451.10" y2="369.70" stroke="#000" stroke-width="1.1" />
<line x1="718.90" y1="369.70" x2="707.70" y2="369.70" stroke="#000" stroke-width="1.1" />
<line x1="439.90" y1="352.32" x2="445.50" y2="352.32" stroke="#000" stroke-width="1.1" />
<line x1="718.90" y1="352.32" x2="713.30" y2="352.32" stroke="#000" stroke-width="1.1" />
<line x1="439.90" y1="334.94" x2="445.50" y2="334.94" stroke="#000" stroke-width="1.1" />
<line x1="718.90" y1="334.94" x2="713.30" y2="334.94" stroke="#000" stroke-width="1.1" />
<line x1="439.90" y1="317.56" x2="445.50" y2="317.56" stroke="#000" stroke-width="1.1" />
<line x1="718.90" y1="317.56" x2="713.30" y2="317.56" stroke="#000" stroke-width="1.1" />
<line x1="439.90" y1="300.18" x2="445.50" y2="300.18" stroke="#000" stroke-width="1.1" />
<line x1="718.90" y1="300.18" x2="713.30" y2="300.18" stroke="#000" stroke-width="1.1" />
<line x1="439.90" y1="282.80" x2="451.10" y2="282.80" stroke="#000" stroke-width="1.1" />
<line x1="718.90" y1="282.80" x2="707.70" y2="282.80" stroke="#000" stroke-width="1.1" />
<line x1="439.90" y1="265.42" x2="445.50" y2="265.42" stroke="#000" stroke-width="1.1" />
<line x1="718.90" y1="265.42" x2="713.30" y2="265.42" stroke="#000" stroke-width="1.1" />
<line x1="439.90" y1="248.04" x2="445.50" y2="248.04" stroke="#000" stroke-width="1.1" />
<line x1="718.90" y1="248.04" x2="713.30" y2="248.04" stroke="#000" stroke-width="1.1" />
<g opacity="0.995">
<text x="72.2" y="723.7" text-anchor="end" font-family="Liberation Sans, sans-serif" font-size="17.5" fill="#000" letter-spacing="0.7" stroke="#fff" stroke-width="0.2">0.1</text>
<text x="72.2" y="639.0" text-anchor="end" font-family="Liberation Sans, sans-serif" font-size="17.5" fill="#000" letter-spacing="0.7" stroke="#fff" stroke-width="0.2">0.2</text>
<text x="72.2" y="554.3" text-anchor="end" font-family="Liberation Sans, sans-serif" font-size="17.5" fill="#000" letter-spacing="0.7" stroke="#fff" stroke-width="0.2">0.4</text>
<text x="72.2" y="504.8" text-anchor="end" font-family="Liberation Sans, sans-serif" font-size="17.5" fill="#000" letter-spacing="0.7" stroke="#fff" stroke-width="0.2">0.6</text>
<text x="72.2" y="469.7" text-anchor="end" font-family="Liberation Sans, sans-serif" font-size="17.5" fill="#000" letter-spacing="0.7" stroke="#fff" stroke-width="0.2">0.8</text>
<text x="72.2" y="442.4" text-anchor="end" font-family="Liberation Sans, sans-serif" font-size="17.5" fill="#000" letter-spacing="0.7" stroke="#fff" stroke-width="0.2">1</text>
<text x="72.2" y="357.7" text-anchor="end" font-family="Liberation Sans, sans-serif" font-size="17.5" fill="#000" letter-spacing="0.7" stroke="#fff" stroke-width="0.2">2</text>
<text x="72.2" y="273.0" text-anchor="end" font-family="Liberation Sans, sans-serif" font-size="17.5" fill="#000" letter-spacing="0.7" stroke="#fff" stroke-width="0.2">4</text>
<text x="111.5" y="739.0" text-anchor="middle" font-family="Liberation Sans, sans-serif" font-size="17.5" fill="#000" letter-spacing="0.7" stroke="#fff" stroke-width="0.2">0.5</text>
<text x="152.2" y="739.0" text-anchor="middle" font-family="Liberation Sans, sans-serif" font-size="17.5" fill="#000" letter-spacing="0.7" stroke="#fff" stroke-width="0.2">1</text>
<text x="246.4" y="739.0" text-anchor="middle" font-family="Liberation Sans, sans-serif" font-size="17.5" fill="#000" letter-spacing="0.7" stroke="#fff" stroke-width="0.2">5</text>
<text x="287.1" y="739.0" text-anchor="middle" font-family="Liberation Sans, sans-serif" font-size="17.5" fill="#000" letter-spacing="0.7" stroke="#fff" stroke-width="0.2">10</text>
<text x="429.6" y="289.2" text-anchor="end" font-family="Liberation Sans, sans-serif" font-size="17.5" fill="#000" letter-spacing="0.7" stroke="#fff" stroke-width="0.2">0.3</text>
<text x="429.6" y="376.1" text-anchor="end" font-family="Liberation Sans, sans-serif" font-size="17.5" fill="#000" letter-spacing="0.7" stroke="#fff" stroke-width="0.2">0.2</text>
<text x="429.6" y="463.0" text-anchor="end" font-family="Liberation Sans, sans-serif" font-size="17.5" fill="#000" letter-spacing="0.7" stroke="#fff" stroke-width="0.2">0.1</text>
<text x="429.6" y="549.9" text-anchor="end" font-family="Liberation Sans, sans-serif" font-size="17.5" fill="#000" letter-spacing="0.7" stroke="#fff" stroke-width="0.2">0</text>
<text x="429.6" y="636.8" text-anchor="end" font-family="Liberation Sans, sans-serif" font-size="17.5" fill="#000" letter-spacing="0.7" stroke="#fff" stroke-width="0.2">−0.1</text>
<text x="429.6" y="723.7" text-anchor="end" font-family="Liberation Sans, sans-serif" font-size="17.5" fill="#000" letter-spacing="0.7" stroke="#fff" stroke-width="0.2">−0.2</text>
<text x="440.2" y="739.2" text-anchor="middle" font-family="Liberation Sans, sans-serif" font-size="17.5" fill="#000" letter-spacing="0.7" stroke="#fff" stroke-width="0.2">0</text>
<text x="510.0" y="739.2" text-anchor="middle" font-family="Liberation Sans, sans-serif" font-size="17.5" fill="#000" letter-spacing="0.7" stroke="#fff" stroke-width="0.2">50</text>
<text x="579.8" y="739.2" text-anchor="middle" font-family="Liberation Sans, sans-serif" font-size="17.5" fill="#000" letter-spacing="0.7" stroke="#fff" stroke-width="0.2">100</text>
<text x="649.5" y="739.2" text-anchor="middle" font-family="Liberation Sans, sans-serif" font-size="17.5" fill="#000" letter-spacing="0.7" stroke="#fff" stroke-width="0.2">150</text>
<text x="719.2" y="739.2" text-anchor="middle" font-family="Liberation Sans, sans-serif" font-size="17.5" fill="#000" letter-spacing="0.7" stroke="#fff" stroke-width="0.2">200</text>
<text transform="translate(101.0,283.0) scale(1.16,1)" font-family="Liberation Serif, serif" font-size="25.5" fill="#000" stroke="#fff" stroke-width="0.16" textLength="44.8" lengthAdjust="spacing">17.3</text>
<text transform="translate(168.0,283.0) scale(1.25,1)" font-family="Liberation Serif, serif" font-size="25.5" fill="#000" stroke="#fff" stroke-width="0.16" textLength="48.5" lengthAdjust="spacing">days</text>
<text transform="translate(121.5,768.4)" font-family="Liberation Serif, serif" font-size="23.4" fill="#000" stroke="#fff" stroke-width="0.16" textLength="14.8" lengthAdjust="spacingAndGlyphs">W</text>
<text transform="translate(138.6,768.4) scale(1.2,1)" font-family="Liberation Serif, serif" font-size="23.4" fill="#000" stroke="#fff" stroke-width="0.16" textLength="92.6" lengthAdjust="spacing">avelength</text>
<text transform="translate(263.6,768.4)" font-family="Liberation Serif, serif" font-size="23.4" fill="#000" stroke="#fff" stroke-width="0.16" textLength="7.6" lengthAdjust="spacingAndGlyphs">(</text>
<text transform="translate(272.9,768.4)" font-family="Liberation Serif, serif" font-style="italic" font-size="24.5" fill="#000" stroke="#fff" stroke-width="0.16" textLength="16.0" lengthAdjust="spacingAndGlyphs">μ</text>
<text transform="translate(290.2,768.4)" font-family="Liberation Serif, serif" font-size="23.4" fill="#000" stroke="#fff" stroke-width="0.16" textLength="20.8" lengthAdjust="spacingAndGlyphs">m</text>
<text transform="translate(312.6,768.4)" font-family="Liberation Serif, serif" font-size="23.4" fill="#000" stroke="#fff" stroke-width="0.16" textLength="7.6" lengthAdjust="spacingAndGlyphs">)</text>
<text transform="translate(502.0,768.4) scale(1.13,1)" font-family="Liberation Serif, serif" font-size="23.4" fill="#000" stroke="#fff" stroke-width="0.16" textLength="60.8" lengthAdjust="spacing">Epoch</text>
<text transform="translate(585.8,768.4) scale(1.2,1)" font-family="Liberation Serif, serif" font-size="23.4" fill="#000" stroke="#fff" stroke-width="0.16" textLength="58.8" lengthAdjust="spacing">(days)</text>
<text transform="translate(27.8,545.9) rotate(-90) scale(1.15,1)" font-family="Liberation Serif, serif" font-size="23.4" fill="#000" stroke="#fff" stroke-width="0.16" textLength="43.6" lengthAdjust="spacing">Flux</text>
<text transform="translate(27.8,484.4) rotate(-90) scale(1.13,1)" font-family="Liberation Serif, serif" font-size="23.4" fill="#000" stroke="#fff" stroke-width="0.16" textLength="54.4" lengthAdjust="spacing">(mJy)</text>
<text transform="translate(391.6,545.9) rotate(-90) scale(1.15,1)" font-family="Liberation Serif, serif" font-size="23.4" fill="#000" stroke="#fff" stroke-width="0.16" textLength="43.6" lengthAdjust="spacing">Flux</text>
<text transform="translate(391.6,484.4) rotate(-90) scale(1.13,1)" font-family="Liberation Serif, serif" font-size="23.4" fill="#000" stroke="#fff" stroke-width="0.16" textLength="54.4" lengthAdjust="spacing">(mJy)</text>
<text transform="translate(580.7,326.6) scale(1.13,1)" font-family="Liberation Serif, serif" font-size="26" fill="#ff0000" stroke="#fff" stroke-width="0.16" textLength="11.2" lengthAdjust="spacing">8</text>
<text transform="translate(609.6,326.6)" font-family="Liberation Serif, serif" font-style="italic" font-size="27" fill="#ff0000" stroke="#fff" stroke-width="0.16" textLength="17.6" lengthAdjust="spacingAndGlyphs">μ</text>
<text transform="translate(627.9,326.6)" font-family="Liberation Serif, serif" font-size="26" fill="#ff0000" stroke="#fff" stroke-width="0.16" textLength="23.5" lengthAdjust="spacingAndGlyphs">m</text>
<text transform="translate(587.8,352.4) scale(1.3,1)" font-family="Liberation Serif, serif" font-size="18.8" fill="#ff0000" stroke="#fff" stroke-width="0.10" textLength="44.6" lengthAdjust="spacing">(÷20)</text>
<text transform="translate(580.7,595.7) scale(1.13,1)" font-family="Liberation Serif, serif" font-size="26" fill="#0000ff" stroke="#fff" stroke-width="0.16" textLength="32.2" lengthAdjust="spacing">2.2</text>
<text transform="translate(633.6,595.7)" font-family="Liberation Serif, serif" font-style="italic" font-size="27" fill="#0000ff" stroke="#fff" stroke-width="0.16" textLength="17.6" lengthAdjust="spacingAndGlyphs">μ</text>
<text transform="translate(651.9,595.7)" font-family="Liberation Serif, serif" font-size="26" fill="#0000ff" stroke="#fff" stroke-width="0.16" textLength="23.9" lengthAdjust="spacingAndGlyphs">m</text>
</g>
</svg>
</body></html>
